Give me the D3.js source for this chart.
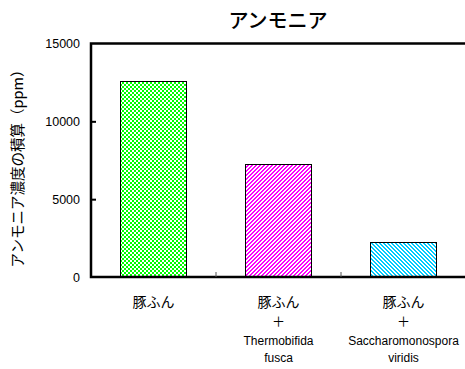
<!DOCTYPE html>
<html>
<head>
<meta charset="utf-8">
<script src="https://cdn.jsdelivr.net/npm/d3@7"></script>
<style>
  html, body { margin: 0; padding: 0; background: #fff; }
  svg { display: block; }
</style>
</head>
<body>
<svg id="chart" width="465" height="369"></svg>
<script>
// Accumulated ammonia concentration for each treatment
const categories = ["豚ふん", "豚ふん+Thermobifida fusca", "豚ふん+Saccharomonospora viridis"];
const categoryLines = [
  ["豚ふん"],
  ["豚ふん", "＋", "Thermobifida", "fusca"],
  ["豚ふん", "＋", "Saccharomonospora", "viridis"]
];
const values = [12600, 7250, 2250];
const yTicks = [0, 5000, 10000, 15000];
const title = "アンモニア";
const yTitle = "アンモニア濃度の積算（ppm）";

const svg = d3.select("#chart");
const W = 465, H = 369;
const x0 = 91, x1 = W + 1;
const yBottom = 277, yTop = 43.5;

const x = d3.scaleBand().domain(categories).range([x0, x1]).padding(0);
const y = d3.scaleLinear().domain([0, 15000]).range([yBottom, yTop]);
const barW = x.bandwidth() * 0.53;

// Pixel fill patterns
const defs = svg.append("defs");
const checker = defs.append("pattern").attr("id", "pChecker")
  .attr("patternUnits", "userSpaceOnUse").attr("width", 4).attr("height", 4);
checker.append("rect").attr("width", 4).attr("height", 4).attr("fill", "#fff");
checker.append("rect").attr("x", 0).attr("y", 0).attr("width", 2).attr("height", 2).attr("fill", "#00ff00");
checker.append("rect").attr("x", 2).attr("y", 2).attr("width", 2).attr("height", 2).attr("fill", "#00ff00");

function stripePattern(id, color, rising) {
  const p = defs.append("pattern").attr("id", id)
    .attr("patternUnits", "userSpaceOnUse").attr("width", 4).attr("height", 4);
  p.append("rect").attr("width", 4).attr("height", 4).attr("fill", "#fff");
  for (let i = 0; i < 4; i++) {
    for (let j = 0; j < 4; j++) {
      const k = rising ? (i + j) % 4 : (i - j + 4) % 4;
      if (k === 0 || k === 1) {
        p.append("rect").attr("x", i).attr("y", j).attr("width", 1).attr("height", 1)
          .attr("fill", color);
      }
    }
  }
}
stripePattern("pMagenta", "#ff00ff", true);
stripePattern("pCyan", "#00ccff", false);
const fills = ["url(#pChecker)", "url(#pMagenta)", "url(#pCyan)"];

// Bars
svg.append("g").selectAll("rect").data(values).join("rect")
  .attr("x", (d, i) => Math.round(x(categories[i]) + (x.bandwidth() - barW) / 2) + 0.5)
  .attr("y", d => Math.round(y(d)) + 0.5)
  .attr("width", Math.round(barW))
  .attr("height", d => yBottom - Math.round(y(d)))
  .attr("fill", (d, i) => fills[i])
  .attr("stroke", "#000")
  .attr("stroke-width", 1.5)
  .attr("shape-rendering", "crispEdges");

// Frame
svg.append("path")
  .attr("d", `M${x1},${yTop}H${x0}V${yBottom}H${x1}`)
  .attr("fill", "none").attr("stroke", "#000").attr("stroke-width", 2.5);

// Y axis: inward ticks and labels
const yAxis = d3.axisRight(y).tickValues(yTicks).tickSize(5).tickFormat("");
const yg = svg.append("g").attr("transform", `translate(${x0},0)`).call(yAxis);
yg.select(".domain").remove();
yg.selectAll(".tick line").attr("stroke", "#000").attr("stroke-width", 2)
  .filter(d => d === 0 || d === 15000).remove();

svg.append("g").selectAll("text").data(yTicks).join("text")
  .attr("x", 80).attr("y", d => y(d)).attr("dy", "0.36em")
  .attr("text-anchor", "end")
  .attr("font-family", "Liberation Sans, Arial, sans-serif")
  .attr("font-size", 12.5).attr("fill", "#000")
  .text(d => d);

// X axis separator ticks
const sepX = categories.slice(1).map(c => x(c));
svg.append("g").selectAll("line").data(sepX).join("line")
  .attr("x1", d => d).attr("x2", d => d)
  .attr("y1", yBottom).attr("y2", yBottom - 5)
  .attr("stroke", "#555").attr("stroke-width", 1);

// Category labels (stacked lines)
const lineY = [302, 321, 341, 358];
const xl = svg.append("g");
categoryLines.forEach((lines, i) => {
  const cx = x(categories[i]) + x.bandwidth() / 2;
  lines.forEach((t, j) => {
    const latin = /^[A-Za-z]/.test(t);
    xl.append("text")
      .attr("x", cx).attr("y", lineY[j]).attr("dy", "0.36em")
      .attr("text-anchor", "middle")
      .attr("font-family", latin ? "Liberation Sans, Arial, sans-serif" : "Noto Sans CJK JP, sans-serif")
      .attr("font-size", latin ? 12 : (t === "＋" ? 13 : 14))
      .attr("fill", "#000")
      .text(t);
  });
});

// Title
svg.append("text")
  .attr("x", (x0 + W) / 2).attr("y", 21).attr("dy", "0.36em")
  .attr("text-anchor", "middle")
  .attr("font-family", "Noto Sans CJK JP, sans-serif")
  .attr("font-size", 20).attr("font-weight", 500).attr("fill", "#000")
  .text(title);

// Y axis title
svg.append("text")
  .attr("transform", `translate(18,165) rotate(-90)`)
  .attr("dy", "0.36em")
  .attr("text-anchor", "middle")
  .attr("font-family", "Noto Sans CJK JP, sans-serif")
  .attr("font-size", 14.5).attr("fill", "#000")
  .text(yTitle);
</script>
</body>
</html>
